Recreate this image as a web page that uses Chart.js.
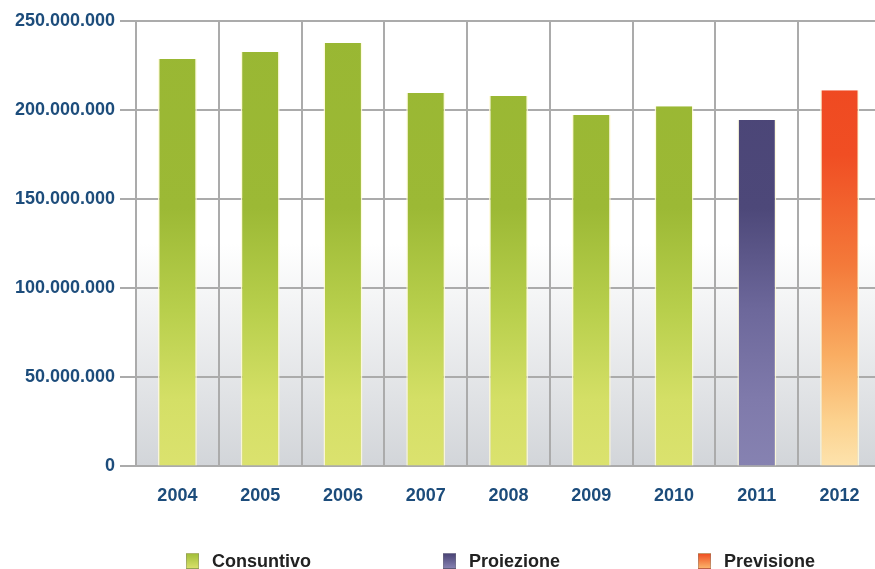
<!DOCTYPE html>
<html>
<head>
<meta charset="utf-8">
<script src="https://cdn.jsdelivr.net/npm/chart.js@4.4.1/dist/chart.umd.min.js"></script>
<style>
  html, body { margin: 0; padding: 0; background: #fff; overflow: hidden; width: 875px; height: 569px; }
  #wrap { position: absolute; left: 0; top: 0; width: 890px; height: 569px; }
  .leg { position: absolute; top: 551px; font: bold 18px "Liberation Sans", Arial, sans-serif; color: #222; white-space: nowrap; }
  .leg i { display: inline-block; width: 13px; height: 16px; vertical-align: -2px; margin-right: 13px; border: 1px solid rgba(120,120,120,0.4); box-sizing: border-box; }
</style>
</head>
<body>
<div id="wrap"><canvas id="c" width="890" height="569"></canvas></div>
<div class="leg" style="left:186px"><i style="background:linear-gradient(to bottom,#a3bf3a,#d8e06a)"></i>Consuntivo</div>
<div class="leg" style="left:443px"><i style="background:linear-gradient(to bottom,#4b4577,#8580b0)"></i>Proiezione</div>
<div class="leg" style="left:698px"><i style="background:linear-gradient(to bottom,#ef5022,#fbb26a)"></i>Previsione</div>
<script>
const years = ["2004","2005","2006","2007","2008","2009","2010","2011","2012"];
const consuntivo = [228700000, 232600000, 237600000, 209600000, 207900000, 197200000, 202200000, null, null];
const proiezione = [null, null, null, null, null, null, null, 194400000, null];
const previsione = [null, null, null, null, null, null, null, null, 211200000];
const yTicks = [0, 50000000, 100000000, 150000000, 200000000, 250000000];

function fmt(v){ return String(v).replace(/\B(?=(\d{3})+(?!\d))/g, "."); }

function grad(stops){
  return (ctx) => {
    const ca = ctx.chart.chartArea;
    if (!ca) return stops[0][1];
    const g = ctx.chart.ctx.createLinearGradient(0, ca.top, 0, ca.bottom);
    stops.forEach(s => g.addColorStop(s[0], s[1]));
    return g;
  };
}

const bgPlugin = {
  id: 'bg',
  beforeDraw(chart){
    const {ctx, chartArea: ca} = chart;
    const g = ctx.createLinearGradient(0, ca.top, 0, ca.bottom);
    g.addColorStop(0, '#ffffff');
    g.addColorStop(0.5, '#ffffff');
    g.addColorStop(1, '#d2d5d9');
    ctx.save();
    ctx.fillStyle = g;
    ctx.fillRect(ca.left, ca.top, ca.right - ca.left, ca.bottom - ca.top);
    ctx.restore();
  }
};

const font = { family: '"Liberation Sans", Arial, sans-serif', size: 18, weight: 'bold' };

new Chart(document.getElementById('c'), {
  type: 'bar',
  data: {
    labels: years,
    datasets: [
      { label: 'Consuntivo', data: consuntivo, skipNull: true,
        backgroundColor: grad([[0,'#99b733'],[0.42,'#9cb935'],[0.65,'#b8cf4c'],[0.85,'#d4df66'],[1,'#dbe26e']]) },
      { label: 'Proiezione', data: proiezione, skipNull: true,
        backgroundColor: grad([[0,'#4a4476'],[0.42,'#4d4879'],[0.65,'#6d689b'],[0.85,'#7f7aab'],[1,'#8682b1']]) },
      { label: 'Previsione', data: previsione, skipNull: true,
        backgroundColor: grad([[0,'#ee4620'],[0.3,'#f04e23'],[0.55,'#f47a3a'],[0.75,'#f9ad62'],[0.9,'#fcd28f'],[1,'#fde3ad']]) }
    ].map(d => Object.assign(d, { borderColor: 'rgba(255,250,215,0.85)', borderWidth: {left:1.5,right:1.5,top:0,bottom:0}, borderSkipped: 'bottom', barPercentage: 0.94, categoryPercentage: 0.5 }))
  },
  options: {
    responsive: false,
    animation: false,
    devicePixelRatio: 1,
    layout: { padding: { left: 0, right: 9, top: 21, bottom: 43 } },
    plugins: { legend: { display: false }, tooltip: { enabled: false } },
    scales: {
      x: {
        offset: true,
        grid: { offset: true, color: '#ababab', lineWidth: 2, drawTicks: false },
        border: { display: false },
        ticks: { font, color: '#1c4c7b', padding: 19 }
      },
      y: {
        min: 0, max: 250000000,
        afterBuildTicks: (s) => { s.ticks = yTicks.map(v => ({ value: v })); },
        afterFit: (s) => { s.width = 136; },
        grid: { color: '#ababab', lineWidth: 2, tickLength: 16 },
        border: { display: false },
        ticks: { font, color: '#1c4c7b', padding: 5, callback: (v) => fmt(v) }
      }
    }
  },
  plugins: [bgPlugin]
});
</script>
</body>
</html>
